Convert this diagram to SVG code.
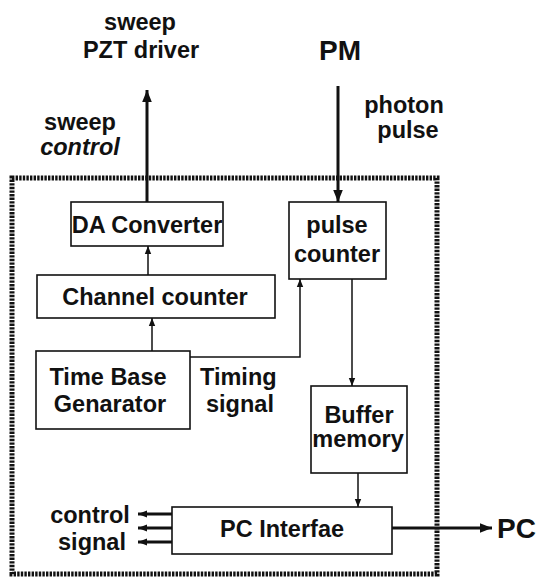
<svg xmlns="http://www.w3.org/2000/svg" width="537" height="581" viewBox="0 0 537 581">
<style>
text{font-family:"Liberation Sans",Arial,sans-serif;font-weight:bold;fill:#111;font-size:23.5px}
.big{font-size:28px}
.box{fill:#fff;stroke:#111;stroke-width:1.6}
.thin{stroke:#111;stroke-width:1.5;fill:none}
.thick{stroke:#111;stroke-width:3;fill:none}
.border{fill:none;stroke:#111;stroke-width:5;stroke-dasharray:2.4 1.2}
</style>
<defs>
<marker id="ah" viewBox="0 0 10 10" refX="10" refY="5" markerWidth="8" markerHeight="8" markerUnits="userSpaceOnUse" orient="auto"><path d="M0,1 L10,5 L0,9 Z" fill="#111"/></marker>
<marker id="ahm" viewBox="0 0 10 10" refX="10" refY="5" markerWidth="10" markerHeight="9" markerUnits="userSpaceOnUse" orient="auto"><path d="M0,1 L10,5 L0,9 Z" fill="#111"/></marker>
<marker id="ahb" viewBox="0 0 10 10" refX="10" refY="5" markerWidth="14" markerHeight="12" markerUnits="userSpaceOnUse" orient="auto"><path d="M0,1 L10,5 L0,9 Z" fill="#111"/></marker>
</defs>
<rect class="border" x="12" y="178" width="425" height="396"/>
<g id="labels">
<text x="140" y="30" text-anchor="middle">sweep</text>
<text x="141" y="58" text-anchor="middle">PZT driver</text>
<text x="340" y="60" text-anchor="middle" class="big">PM</text>
<text x="404" y="113" text-anchor="middle">photon</text>
<text x="408" y="138" text-anchor="middle">pulse</text>
<text x="80" y="130" text-anchor="middle">sweep</text>
<text x="80" y="155" text-anchor="middle" font-style="italic">control</text>
<text x="200" y="385">Timing</text>
<text x="206" y="412">signal</text>
<text x="90" y="523" text-anchor="middle">control</text>
<text x="92" y="550" text-anchor="middle">signal</text>
<text x="497" y="538" class="big">PC</text>
</g>
<g id="da"><rect class="box" x="71" y="202" width="152" height="44"/><text x="147" y="233" text-anchor="middle">DA Converter</text></g>
<g id="channel"><rect class="box" x="37" y="275" width="238" height="43"/><text x="155" y="305" text-anchor="middle">Channel counter</text></g>
<g id="timebase"><rect class="box" x="36" y="351" width="154" height="78"/><text x="108" y="385" text-anchor="middle">Time Base</text><text x="110" y="412" text-anchor="middle">Genarator</text></g>
<g id="pulse"><rect class="box" x="289" y="202" width="97" height="77"/><text x="337" y="233" text-anchor="middle">pulse</text><text x="337" y="262" text-anchor="middle">counter</text></g>
<g id="buffer"><rect class="box" x="311" y="386" width="96" height="87"/><text x="359" y="423" text-anchor="middle">Buffer</text><text x="358" y="447" text-anchor="middle">memory</text></g>
<g id="pcif"><rect class="box" x="172" y="507" width="220" height="47"/><text x="282" y="537" text-anchor="middle">PC Interfae</text></g>
<g id="connectors">
<line class="thick" x1="147" y1="202" x2="147" y2="90" marker-end="url(#ahb)"/>
<line class="thick" x1="338" y1="86" x2="338" y2="202" marker-end="url(#ahb)"/>
<line class="thin" x1="148" y1="275" x2="148" y2="246" marker-end="url(#ah)"/>
<line class="thin" x1="152" y1="351" x2="152" y2="318" marker-end="url(#ah)"/>
<polyline class="thin" points="190,357 300,357 300,279" marker-end="url(#ah)"/>
<line class="thin" x1="352" y1="279" x2="352" y2="386" marker-end="url(#ah)"/>
<line class="thin" x1="358" y1="473" x2="358" y2="507" marker-end="url(#ah)"/>
<line class="thick" x1="392" y1="528" x2="492" y2="528" marker-end="url(#ahb)"/>
<line class="thick" x1="172" y1="514" x2="138" y2="514" marker-end="url(#ahm)"/>
<line class="thick" x1="172" y1="528" x2="138" y2="528" marker-end="url(#ahm)"/>
<line class="thick" x1="172" y1="542" x2="138" y2="542" marker-end="url(#ahm)"/>
</g>
</svg>
